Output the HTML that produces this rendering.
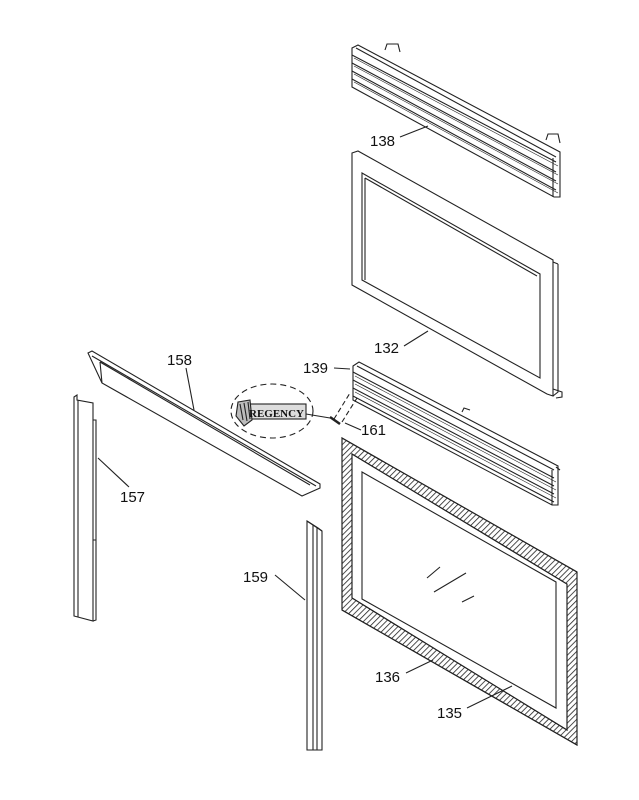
<!DOCTYPE html>
<html><head><meta charset="utf-8"><style>
html,body{margin:0;padding:0;background:#fff;}
svg{display:block;}
text{font-family:"Liberation Sans",Arial,sans-serif;font-size:15px;fill:#111;}
</style></head><body>
<svg width="639" height="800" viewBox="0 0 639 800" xmlns="http://www.w3.org/2000/svg">
<defs>
<pattern id="h" patternUnits="userSpaceOnUse" width="4" height="4" patternTransform="rotate(45)">
<rect width="4" height="4" fill="#fff"/><line x1="0" y1="0" x2="0" y2="4" stroke="#222" stroke-width="1.6"/>
</pattern>
</defs>
<g fill="none" stroke="#222" stroke-width="1.1">
<!-- 138 louver -->
<path d="M385,50 L387,44 L398,44 L400,52"/>
<path d="M546,140 L548,134 L558,134 L560,143"/>
<path d="M352,48 L358,45 L560,152 L560,197 L554,197 L352,87 Z" fill="#fff"/>
<path d="M352,55 L556,162 M352,63 L556,172 M352,71 L556,181 M352,79 L556,190 M356,48 L556,157"/>
<path d="M354,58 L558,166 M354,66 L558,175 M354,74 L558,184 M354,82 L558,193" stroke-width="0.6"/>
<path d="M553,158 L553,197"/>
<!-- 132 frame -->
<path d="M352,153 L358,151 L553,260 L553,396 L547,394 L352,285 Z" fill="#fff"/>
<path d="M362,173 L540,274 L540,378 L362,280 Z"/>
<path d="M365,178 L537,276 M365,178 L365,280"/>
<path d="M558,264 L558,392 L553,396 M553,262 L558,264"/>
<path d="M553,389 L562,392 L562,397 L556,398"/>
<!-- 139 louver -->
<path d="M462,412 L464,408 L470,410"/>
<path d="M353,366 L359,362 L558,466 L558,505 L552,505 L353,400 Z" fill="#fff"/>
<path d="M353,372 L554,478 M353,380 L554,486 M353,388 L554,494 M353,396 L554,502 M357,366 L554,470"/>
<path d="M355,376 L556,482 M355,384 L556,490 M355,392 L556,498" stroke-width="0.6"/>
<path d="M552,470 L552,505 M556,467 L560,470"/>
<!-- dashed connector 161 -->
<path d="M334,419 L350,393 M342,422 L357,398" stroke-dasharray="5,3"/>
<path d="M330,417 L340,424" stroke-width="2.5"/>
<!-- 135/136 hatched frame -->
<path fill-rule="evenodd" fill="url(#h)" d="M342,438 L577,572 L577,745 L342,610 Z M352,454 L352,598 L567,730 L567,584 Z"/>
<path d="M342,438 L577,572 L577,745 L342,610 Z M352,454 L567,584 L567,730 L352,598 Z"/>
<path d="M362,472 L556,582 L556,708 L362,599 Z"/>
<path d="M427,578 L440,567 M434,592 L466,573 M462,602 L474,596"/>
<!-- 158 bar -->
<path d="M88,353 L92,351 L320,484 L320,488 L302,496 L102,383 Z" fill="#fff"/>
<path d="M92,356 L316,486 M100,362 L310,485 M102,383 L100,362"/>
<!-- 157 -->
<path d="M74,397 L77,395 L77,400 L93,403 L93,621 L74,616 Z" fill="#fff"/>
<path d="M78,400 L78,617 M93,420 L96,420 L96,620 L93,621 M93,540 L96,540"/>
<!-- 159 -->
<path d="M307,521 L307,750 L322,750 L322,531 Z" fill="#fff"/>
<path d="M307,521 L318,528 L322,531 M313,525 L313,750 M317,528 L317,750"/>
<!-- Regency -->
<ellipse cx="272" cy="411" rx="41" ry="27" stroke-dasharray="6,4"/>
<rect x="250" y="404" width="56" height="15" fill="#ddd"/>
<path d="M238,402 L250,400 L252,420 L244,426 L236,416 Z" fill="#bbb"/>
<path d="M240,404 L243,420 M244,403 L247,421 M248,402 L250,419"/>
<path d="M306,414 L330,418"/>
<!-- leaders -->
<path d="M400,137 L428,126 M404,346 L428,331 M334,368 L350,369 M345,423 L361,430 M186,368 L194,410 M98,458 L129,487 M275,575 L305,600 M406,673 L433,660 M467,708 L512,686"/>
</g>
<text x="249" y="417" style="font-family:'Liberation Serif',serif;font-size:11px;font-weight:bold;">REGENCY</text>
<text x="370" y="146">138</text>
<text x="374" y="353">132</text>
<text x="303" y="373">139</text>
<text x="361" y="435">161</text>
<text x="167" y="365">158</text>
<text x="120" y="502">157</text>
<text x="243" y="582">159</text>
<text x="375" y="682">136</text>
<text x="437" y="718">135</text>
</svg>
</body></html>
